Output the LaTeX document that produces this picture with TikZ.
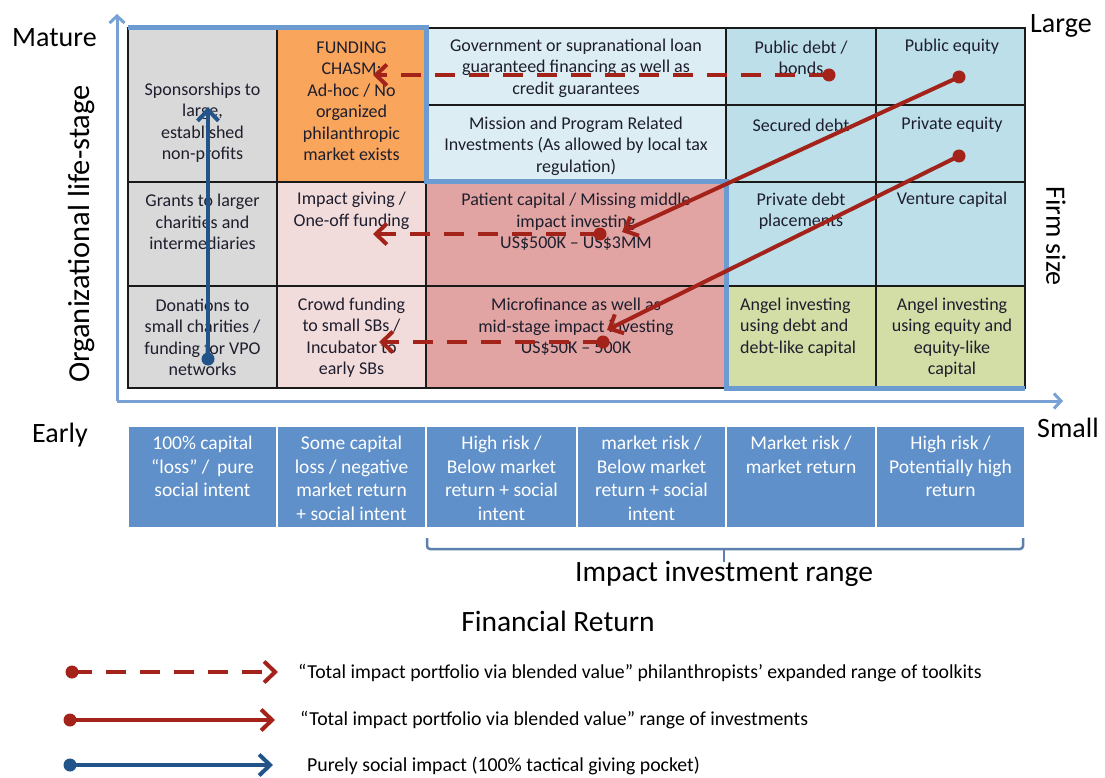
\documentclass[tikz,border=0pt]{standalone}
\usepackage{fontspec}
\setmainfont{Carlito}
\usetikzlibrary{arrows.meta}

\definecolor{gridgrey}{HTML}{D9D9D9}
\definecolor{chasmorange}{HTML}{F9A55B}
\definecolor{pinklight}{HTML}{F2DCDB}
\definecolor{pinkred}{HTML}{E2A4A3}
\definecolor{paleblue}{HTML}{DCEEF4}
\definecolor{lightblue}{HTML}{BCDFE9}
\definecolor{anglegreen}{HTML}{D3DDA6}
\definecolor{retblue}{HTML}{6090C9}
\definecolor{outlineblue}{HTML}{6B9BD1}
\definecolor{axisblue}{HTML}{78A2D6}
\definecolor{bracketblue}{HTML}{5E80AE}
\definecolor{arrowred}{HTML}{A32219}
\definecolor{arrowblue}{HTML}{22548A}
\definecolor{celltext}{HTML}{1E1E2E}
\definecolor{gridline}{HTML}{1A1A1A}

\begin{document}
\begin{tikzpicture}[x=1pt,y=-1pt,
  gridcell/.style={draw=gridline, line width=1.2pt, anchor=north west,
    inner sep=0pt, outer sep=0pt},
  celltxt/.style={align=center, inner sep=0pt, text=celltext,
    font=\fontsize{18}{21.5}\selectfont},
  retbox/.style={fill=retblue, draw=white, line width=1.5pt, anchor=north west,
    inner sep=0pt, outer sep=0pt, minimum height=102pt},
  rettxt/.style={align=center, inner sep=0pt, text=white, anchor=north,
    font=\fontsize{19.5}{23.5}\selectfont},
  axislabel/.style={inner sep=0pt, font=\fontsize{28}{30}\selectfont},
  bigtitle/.style={inner sep=0pt, font=\fontsize{29.5}{32}\selectfont},
  legtxt/.style={inner sep=0pt, anchor=west, font=\fontsize{19.8}{22}\selectfont},
  barb/.tip={Straight Barb[length=11pt,width=21pt]},
  philarrow/.style={draw=arrowred, line width=4pt, dash pattern=on 20pt off 14pt, -barb},
  investarrow/.style={draw=arrowred, line width=4pt, -barb},
  socialarrow/.style={draw=arrowblue, line width=4pt, -barb},
  axisline/.style={draw=axisblue, line width=3pt, -{Straight Barb[length=7pt,width=15pt]}},
]
\useasboundingbox (0,0) rectangle (1105,778);
\fill[white] (0,0) rectangle (1105,778);

% ---- matrix of instruments ----
\node[gridcell, fill=gridgrey,    minimum width=149pt, minimum height=154pt] (spons)    at (128,28) {};
\node[gridcell, fill=chasmorange, minimum width=149pt, minimum height=154pt] (chasm)    at (277,28) {};
\node[gridcell, fill=paleblue,    minimum width=300pt, minimum height=77pt]  (gov)      at (426,28) {};
\node[gridcell, fill=paleblue,    minimum width=300pt, minimum height=77pt]  (mission)  at (426,105) {};
\node[gridcell, fill=lightblue,   minimum width=150pt, minimum height=77pt]  (pubdebt)  at (726,28) {};
\node[gridcell, fill=lightblue,   minimum width=149pt, minimum height=77pt]  (pubeq)    at (876,28) {};
\node[gridcell, fill=lightblue,   minimum width=150pt, minimum height=77pt]  (secdebt)  at (726,105) {};
\node[gridcell, fill=lightblue,   minimum width=149pt, minimum height=77pt]  (priveq)   at (876,105) {};
\node[gridcell, fill=gridgrey,    minimum width=149pt, minimum height=104pt] (grants)   at (128,182) {};
\node[gridcell, fill=pinklight,   minimum width=149pt, minimum height=104pt] (impgiv)   at (277,182) {};
\node[gridcell, fill=pinkred,     minimum width=300pt, minimum height=104pt] (patient)  at (426,182) {};
\node[gridcell, fill=lightblue,   minimum width=150pt, minimum height=104pt] (privdebt) at (726,182) {};
\node[gridcell, fill=lightblue,   minimum width=149pt, minimum height=104pt] (venture)  at (876,182) {};
\node[gridcell, fill=gridgrey,    minimum width=149pt, minimum height=102pt] (donat)    at (128,286) {};
\node[gridcell, fill=pinklight,   minimum width=149pt, minimum height=102pt] (crowd)    at (277,286) {};
\node[gridcell, fill=pinkred,     minimum width=300pt, minimum height=102pt] (micro)    at (426,286) {};
\node[gridcell, fill=anglegreen,  minimum width=150pt, minimum height=102pt] (angdebt)  at (726,286) {};
\node[gridcell, fill=anglegreen,  minimum width=149pt, minimum height=102pt] (angeq)    at (876,286) {};

% staircase outline
\draw[outlineblue, line width=5pt, line join=miter]
  (spons.north west) -- (chasm.north east) -- (chasm.south east)
  -- (mission.south east) -- (micro.south east) -- (angeq.south east);

% cell texts
\node[celltxt] (t-spons) at (202.5,122.5) {Sponsorships to\\large,\\established\\non-profits};
\node[celltxt] (t-chasm) at (351.5,101) {FUNDING\\CHASM:\\Ad-hoc / No\\organized\\philanthropic\\market exists};
\node[celltxt] (t-gov) at (576,68) {Government or supranational loan\\guaranteed financing as well as\\credit guarantees};
\node[celltxt] (t-mission) at (576,146) {Mission and Program Related\\Investments (As allowed by local tax\\regulation)};
\node[celltxt] (t-pubdebt) at (801,58) {Public debt /\\bonds};
\node[celltxt] (t-pubeq) at (952,47) {Public equity};
\node[celltxt] (t-secdebt) at (801,125) {Secured debt};
\node[celltxt] (t-priveq) at (952,125) {Private equity};
\node[celltxt] (t-grants) at (202.5,222) {Grants to larger\\charities and\\intermediaries};
\node[celltxt] (t-impgiv) at (351.5,211) {Impact giving /\\One-off funding};
\node[celltxt] (t-patient) at (576,222) {Patient capital / Missing middle\\impact investing\\US\$500K – US\$3MM};
\node[celltxt] (t-privdebt) at (801,211) {Private debt\\placements};
\node[celltxt] (t-venture) at (952,200) {Venture capital};
\node[celltxt] (t-donat) at (202.5,337.5) {Donations to\\small charities /\\funding for VPO\\networks};
\node[celltxt] (t-crowd) at (351.5,337.5) {Crowd funding\\to small SBs /\\Incubator to\\early SBs};
\node[celltxt] (t-micro) at (576,327) {Microfinance as well as\\mid-stage impact investing\\US\$50K – 500K};
\node[celltxt, align=left, anchor=west] (t-angdebt) at (740,327) {Angel investing\\using debt and\\debt-like capital};
\node[celltxt] (t-angeq) at (952,337.5) {Angel investing\\using equity and\\equity-like\\capital};

% ---- axes ----
\coordinate (origin) at (117,401);
\coordinate (ytip) at (117,14);
\coordinate (xtip) at (1063,401);
\draw[axisline] (origin) -- (ytip);
\draw[axisline] (origin) -- (xtip);

\node[axislabel, anchor=base west] (mature) at (12,47) {Mature};
\node[axislabel, anchor=base west] (large) at (1030,33) {Large};
\node[axislabel, anchor=base west] (early) at (32,442) {Early};
\node[axislabel, anchor=base west] (small) at (1037,437) {Small};
\node[axislabel, rotate=90, font=\fontsize{30.5}{32}\selectfont] (lifestage) at (82,234) {Organizational life-stage};
\node[axislabel, rotate=-90] (firmsize) at (1056,236) {Firm size};

% ---- financial return row ----
\node[retbox, minimum width=149pt] (r1) at (128,426) {};
\node[retbox, minimum width=149pt] (r2) at (277,426) {};
\node[retbox, minimum width=151pt] (r3) at (426,426) {};
\node[retbox, minimum width=149pt] (r4) at (577,426) {};
\node[retbox, minimum width=150pt] (r5) at (726,426) {};
\node[retbox, minimum width=149pt] (r6) at (876,426) {};
\node[rettxt] (tr1) at (202.5,436) {100\% capital\\“loss” /\, pure\\social intent};
\node[rettxt] (tr2) at (351.5,436) {Some capital\\loss / negative\\market return\\+ social intent};
\node[rettxt] (tr3) at (501.5,436) {High risk /\\Below market\\return + social\\intent};
\node[rettxt] (tr4) at (651.5,436) {market risk /\\Below market\\return + social\\intent};
\node[rettxt] (tr5) at (801,436) {Market risk /\\market return};
\node[rettxt] (tr6) at (950.5,436) {High risk /\\Potentially high\\return};

% bracket for the impact investment range
\coordinate (brl) at (427,538);
\coordinate (brr) at (1023,538);
\coordinate (brm) at (724,549);
\coordinate (brt) at (724,562);
\draw[bracketblue, line width=2.5pt, rounded corners=3pt]
  (brl) -- (brl |- brm) -- (brr |- brm) -- (brr);
\draw[bracketblue, line width=2.5pt] (brm) -- (brt);

\node[bigtitle] (range) at (724,574) {Impact investment range};
\node[bigtitle] (finret) at (558,621) {Financial Return};

% ---- arrows across the matrix ----
\coordinate (d1s) at (829,75);  \coordinate (d1e) at (373,75);
\coordinate (d2s) at (600,234); \coordinate (d2e) at (373,234);
\coordinate (d3s) at (603,342); \coordinate (d3e) at (379,342);
\coordinate (s1s) at (959,77);  \coordinate (s1e) at (622,232);
\coordinate (s2s) at (959,156); \coordinate (s2e) at (607,330);
\coordinate (bls) at (208,359); \coordinate (ble) at (208,107);

\draw[philarrow] (d1s) -- (d1e);
\draw[philarrow] (d2s) -- (d2e);
\draw[philarrow] (d3s) -- (d3e);
\draw[investarrow] (s1s) -- (s1e);
\draw[investarrow] (s2s) -- (s2e);
\draw[socialarrow] (bls) -- (ble);
\foreach \p in {d1s,d2s,d3s,s1s,s2s} \fill[arrowred] (\p) circle (6.5pt);
\fill[arrowblue] (bls) circle (6.5pt);

% ---- legend ----
\coordinate (l1s) at (72,672);  \coordinate (l1e) at (278,672);
\coordinate (l2s) at (70,720);  \coordinate (l2e) at (275,720);
\coordinate (l3s) at (70,765);  \coordinate (l3e) at (273,765);
\draw[philarrow] (l1s) -- (l1e);
\draw[investarrow] (l2s) -- (l2e);
\draw[socialarrow] (l3s) -- (l3e);
\fill[arrowred] (l1s) circle (6.5pt);
\fill[arrowred] (l2s) circle (6.5pt);
\fill[arrowblue] (l3s) circle (6.5pt);
\node[legtxt] (leg1) at (298,673) {“Total impact portfolio via blended value” philanthropists’ expanded range of toolkits};
\node[legtxt] (leg2) at (300,720) {“Total impact portfolio via blended value” range of investments};
\node[legtxt] (leg3) at (307,766) {Purely social impact (100\% tactical giving pocket)};
\end{tikzpicture}
\end{document}
